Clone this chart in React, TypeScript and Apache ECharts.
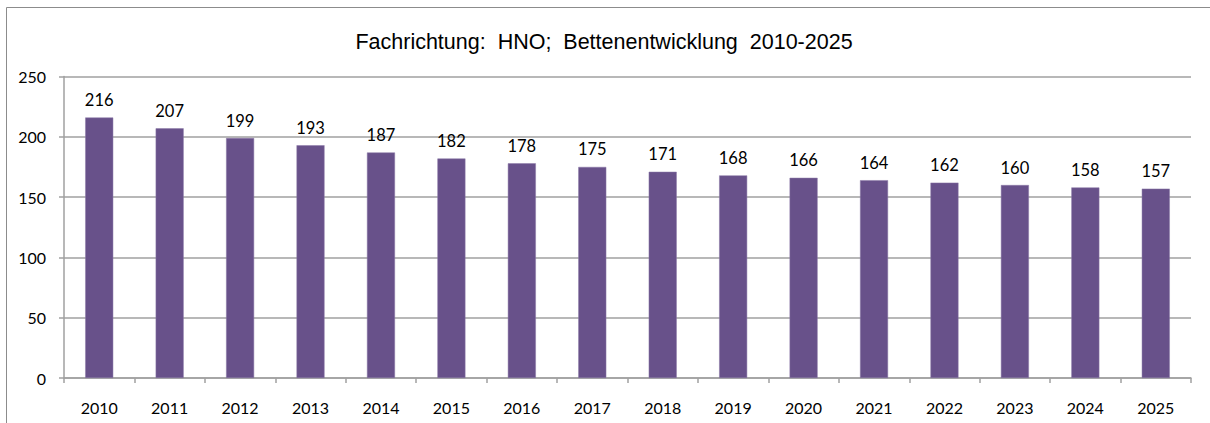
import React, { useEffect, useRef } from "react";
import * as echarts from "echarts";

const categories = ["2010", "2011", "2012", "2013", "2014", "2015", "2016", "2017", "2018", "2019", "2020", "2021", "2022", "2023", "2024", "2025"];
const beds = [216, 207, 199, 193, 187, 182, 178, 175, 171, 168, 166, 164, 162, 160, 158, 157];
const titleText = "Fachrichtung:  HNO;  Bettenentwicklung  2010-2025";

export default function App() {
  const ref = useRef<HTMLDivElement>(null);
  useEffect(() => {
    document.body.style.margin = "0";
    if (!ref.current) return;
    const chart = echarts.init(ref.current, null, { renderer: "svg" });
    const labelFont = "Lato, 'Liberation Sans', sans-serif";
    chart.setOption({
      animation: false,
      backgroundColor: "#ffffff",
      title: {
        text: titleText,
        left: 599,
        textAlign: "center",
        top: 26,
        textStyle: { fontFamily: "'Liberation Sans', Arial, sans-serif", fontSize: 21.5, fontWeight: "normal", color: "#000" },
      },
      graphic: [
        {
          type: "rect",
          shape: { x: 6.5, y: 7.5, width: 1300, height: 500 },
          style: { fill: "none", stroke: "#8c8c8c", lineWidth: 1 },
          silent: true,
        },
      ],
      grid: { left: 64, right: 19, top: 76.5, bottom: 45, containLabel: false },
      xAxis: {
        type: "category",
        data: categories,
        axisLine: { lineStyle: { color: "#a0a0a0", width: 1.5 } },
        axisTick: { show: true, length: 5, inside: false, alignWithLabel: false, lineStyle: { color: "#a0a0a0", width: 1.5 } },
        axisLabel: { color: "#000", fontSize: 16, fontFamily: labelFont, margin: 21 },
      },
      yAxis: {
        type: "value",
        min: 0,
        max: 250,
        interval: 50,
        axisLine: { show: true, lineStyle: { color: "#a0a0a0", width: 1.5 } },
        axisTick: { show: true, length: 5, lineStyle: { color: "#a0a0a0", width: 1.5 } },
        splitLine: { show: true, lineStyle: { color: "#a0a0a0", width: 1.5 } },
        axisLabel: { color: "#000", fontSize: 16, fontFamily: labelFont, margin: 18 },
      },
      series: [
        {
          type: "bar",
          data: beds,
          barWidth: 28,
          itemStyle: { color: "#68518a", borderColor: "#8a78a6", borderWidth: 0.5 },
          label: { show: true, position: "top", distance: 9, color: "#000", fontSize: 16.5, fontFamily: labelFont },
        },
      ],
    });
    return () => chart.dispose();
  }, []);
  return <div ref={ref} style={{ width: 1210, height: 423 }} />;
}
